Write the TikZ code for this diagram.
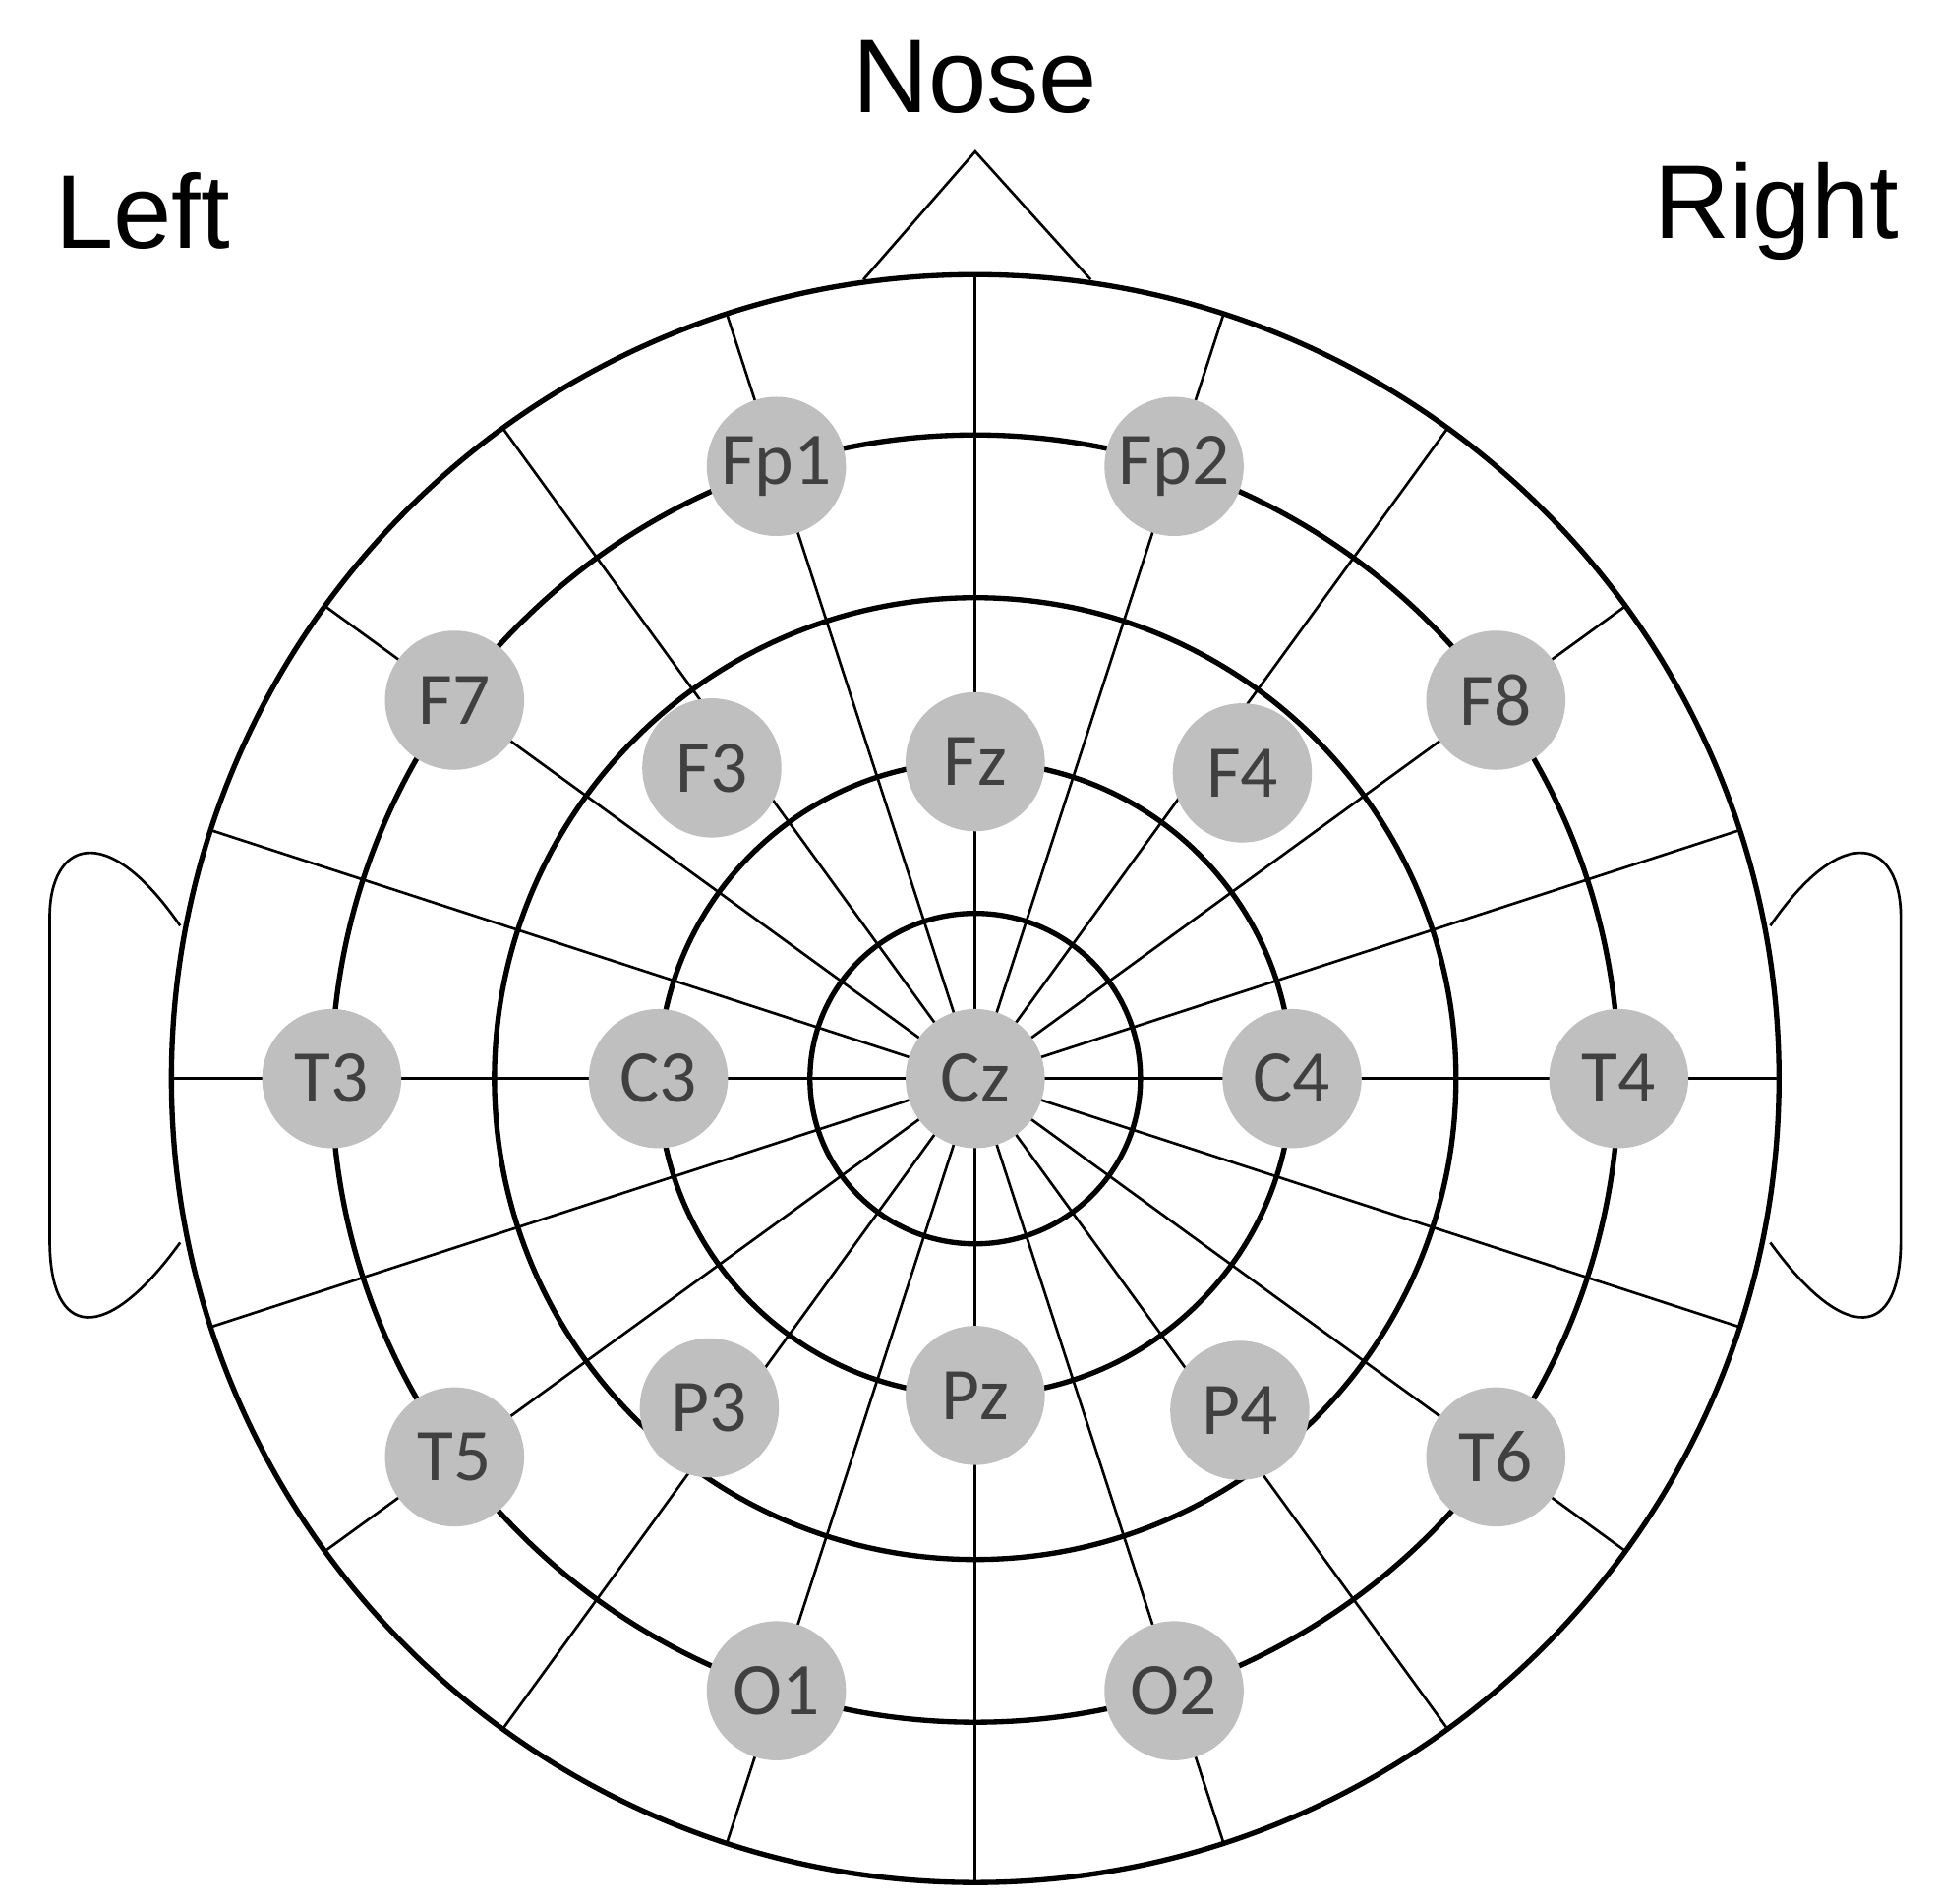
\documentclass[tikz,border=0pt]{standalone}
\usepackage{fontspec}
\setmainfont{Liberation Sans}
\newfontfamily\elfont{Carlito}
\begin{document}
\begin{tikzpicture}[font=\fontsize{24}{28}\selectfont,
    ring/.style={line width=1.2pt},
    spoke/.style={line width=0.6pt},
    electrode/.style={circle,fill=black!25,minimum size=1.12cm,inner sep=0pt,
      text=black!75,font=\elfont\fontsize{17}{20}\selectfont}]
        \def\rA{1.33}
        \def\rB{2.55}
        \def\rC{3.87}
        \def\rD{5.18}
        \def\rE{6.47}
        \useasboundingbox (-7.85,-6.64) rectangle (7.75,8.68);

        % spokes and rings
        \coordinate (cz) at (0,0);
        \foreach \a in {0,18,...,342}
            \draw[spoke] (cz)--(\a:\rE);
        \foreach \r in {\rA,\rB,\rC,\rD,\rE}
            \draw[ring] (cz) circle (\r);

        % nose and ears
        \draw[spoke] (-0.90,6.43)--(0,7.46)--(0.93,6.43);
        \draw[spoke] (-6.40,1.23) .. controls (-7.0,2.1) and (-7.45,1.9) .. (-7.45,1.3)
            -- (-7.45,-1.3) .. controls (-7.45,-2.1) and (-7.0,-2.15) .. (-6.40,-1.32);
        \draw[spoke] (6.40,1.23) .. controls (7.0,2.1) and (7.45,1.9) .. (7.45,1.3)
            -- (7.45,-1.3) .. controls (7.45,-2.1) and (7.0,-2.15) .. (6.40,-1.32);

        \node (nose) at (0,8.06) {Nose};
        \node (left) at (-6.70,6.98) {Left};
        \node (right) at (6.45,6.98) {Right};

        % electrodes on the outer ring
        \foreach \n/\a in {Fp1/108,F7/144,T3/180,T5/216,O1/252,O2/288,T6/324,T4/0,F8/36,Fp2/72}
            \node[electrode] (\n) at (\a:\rD) {\n};
        % inner electrodes
        \node[electrode] (Cz) at (cz) {Cz};
        \foreach \n/\a in {Fz/90,C3/180,Pz/270,C4/0}
            \node[electrode] (\n) at (\a:\rB) {\n};
        \node[electrode] (F3) at (-2.12,2.50) {F3};
        \node[electrode] (F4) at (2.15,2.46) {F4};
        \node[electrode] (P3) at (-2.14,-2.65) {P3};
        \node[electrode] (P4) at (2.13,-2.67) {P4};
\end{tikzpicture}
\end{document}
